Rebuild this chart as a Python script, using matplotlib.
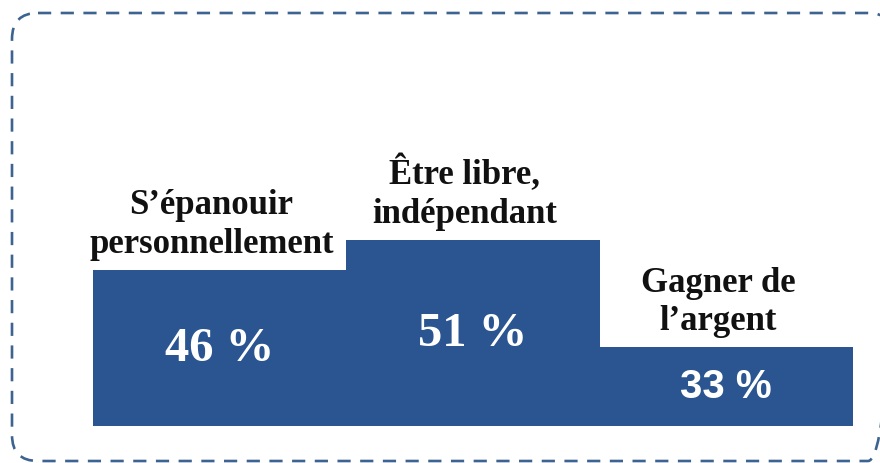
import matplotlib
matplotlib.use("Agg")
import matplotlib.pyplot as plt
from matplotlib.patches import FancyBboxPatch

categories = ["S\u2019épanouir\npersonnellement", "Être libre,\nindépendant", "Gagner de\nl\u2019argent"]
values = [46, 51, 33]
value_labels = ["46 %", "51 %", "33 %"]

BAR_COLOR = "#2a5590"
BORDER_COLOR = "#3d6390"

fig = plt.figure(figsize=(8.8, 4.64), dpi=100)

# Background frame axes in pixel coordinates
bg = fig.add_axes([0, 0, 1, 1])
bg.set_xlim(0, 880)
bg.set_ylim(464, 0)
bg.axis("off")
frame = FancyBboxPatch((12, 14), 882, 448,
                       boxstyle="round,pad=0,rounding_size=26",
                       fill=False, edgecolor=BORDER_COLOR, linewidth=1.9,
                       linestyle=(0, (5.0, 3.6)))
bg.add_patch(frame)

# Bar axes
ax = fig.add_axes([93 / 880, 37 / 464, 760 / 880, 407 / 464])
ax.set_zorder(2)
ax.patch.set_alpha(0)
x = list(range(len(values)))
bars = ax.bar(x, values, width=1.0, color=BAR_COLOR, edgecolor="none")
ybase = 19.7
ax.set_ylim(ybase, ybase + 407 / 5.95)
ax.set_xlim(-0.5, len(values) - 0.5)
ax.axis("off")

serif = ["Liberation Serif", "DejaVu Serif"]
for i, (v, cat, lab) in enumerate(zip(values, categories, value_labels)):
    ax.annotate(cat, (i, v), xytext=(-6, 7), textcoords="offset points",
                ha="center", va="bottom", fontsize=25, fontweight="bold",
                family=serif, linespacing=1.22, color="#111111")
    fam = ["Liberation Sans", "DejaVu Sans"] if i == 2 else serif
    ax.text(i, (ybase + v) / 2, lab, ha="center", va="center",
            fontsize=35 if i < 2 else 29, fontweight="bold", family=fam,
            color="white")

fig.savefig("out.png", dpi=100)
